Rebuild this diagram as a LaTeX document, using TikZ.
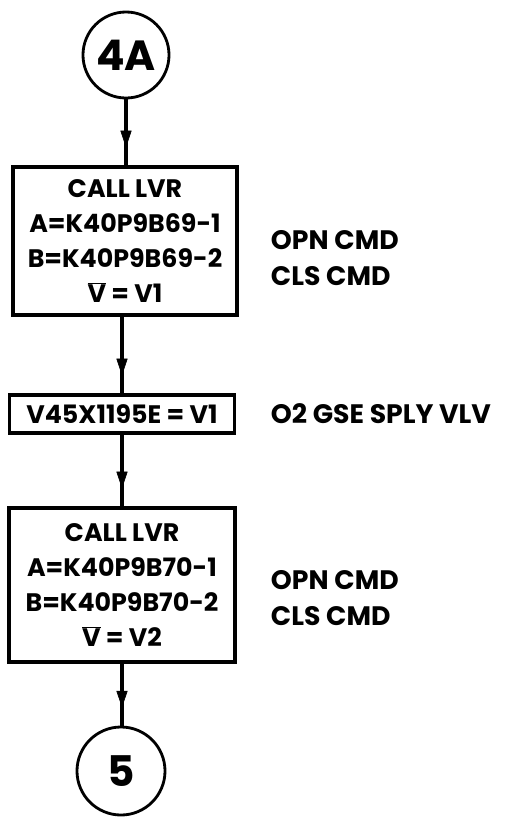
\documentclass[tikz,border=0pt]{standalone}
\usepackage{fontspec}
\setmainfont{Poppins}
\usepackage{tikz}
\usetikzlibrary{arrows.meta, positioning, decorations.markings}

\begin{document}
\begin{tikzpicture}[
    x=0.025cm, y=-0.025cm,
    >=Triangle,
    conn/.style={draw, circle, line width=2pt, minimum size=#1, inner sep=0pt, font=\fontsize{30}{32}\selectfont\bfseries},
    callbox/.style={draw, line width=2.2pt, minimum width=5.6cm, minimum height=#1, inner sep=1pt, align=center, font=\fontsize{18}{25}\selectfont\bfseries},
    flow/.style={line width=2.2pt, postaction={decorate},
      decoration={markings, mark=at position -0.45cm with {\arrow[line width=0.5pt]{Triangle[length=0.42cm, width=0.28cm]}}}},
    note/.style={anchor=west, font=\fontsize{19}{22}\selectfont\bfseries},
]
\useasboundingbox (0,0) rectangle (522,817);

% Connectors
\node[conn=2.15cm] (c4a) at (126, 55) {4A};
\node[conn=2.2cm] (c5) at (121, 771) {5};

% First valve call
\node[callbox=3.7cm] (lvr1) at (125, 241) {CALL LVR\\A=K40P9B69-1\\B=K40P9B69-2\\$\overline{\mbox{V}}$ = V1};
\node[note] (opn1) at (266, 240) {OPN CMD};
\node[note] (cls1) at (266, 276) {CLS CMD};

% Valve assignment
\node[callbox=0.95cm, minimum width=5.62cm] (v45) at (122, 414) {V45X1195E = V1};
\node[note] (gse) at (266, 414) {O2 GSE SPLY VLV};

% Second valve call
\node[callbox=3.85cm, minimum width=5.65cm] (lvr2) at (122, 585) {CALL LVR\\A=K40P9B70-1\\B=K40P9B70-2\\$\overline{\mbox{V}}$ = V2};
\node[note] (opn2) at (266, 580) {OPN CMD};
\node[note] (cls2) at (266, 616) {CLS CMD};

% Flow lines
\draw[flow] (c4a.south) -- (c4a.south |- lvr1.north);
\draw[flow] (lvr1.south -| v45.north) -- (v45.north);
\draw[flow] (v45.south) -- (lvr2.north);
\draw[flow] (lvr2.south) -- (lvr2.south |- c5.north);

\end{tikzpicture}
\end{document}
